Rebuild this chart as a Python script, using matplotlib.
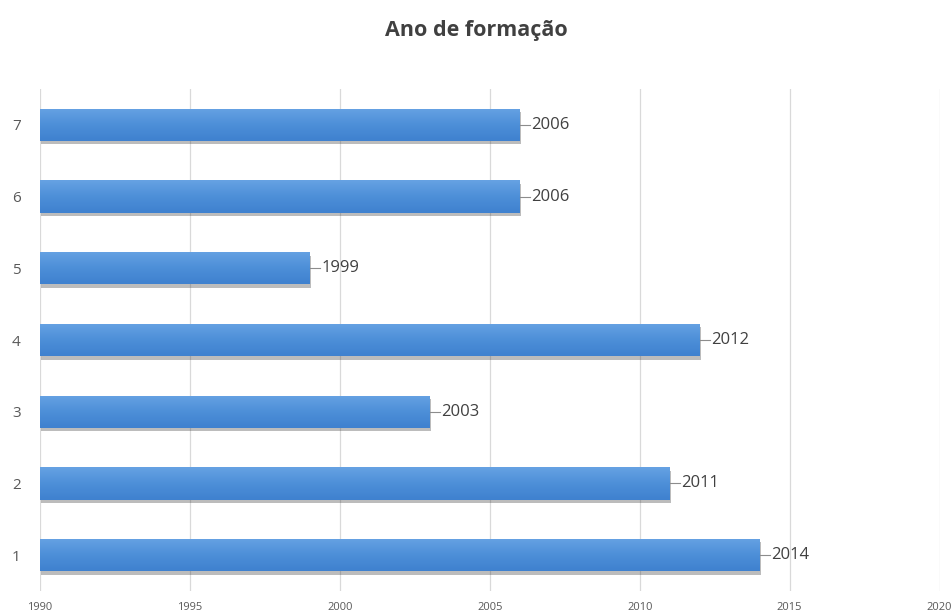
import numpy as np
import matplotlib.pyplot as plt
import matplotlib.patheffects as pe
from matplotlib.colors import LinearSegmentedColormap

plt.rcParams['font.family'] = ['Open Sans', 'DejaVu Sans']

categorias = [1, 2, 3, 4, 5, 6, 7]
anos = [2014, 2011, 2003, 2012, 1999, 2006, 2006]
ticks_x = [1990, 1995, 2000, 2005, 2010, 2015, 2020]

fig = plt.figure(figsize=(9.52, 6.14), dpi=100)
ax = fig.add_axes([0.042, 0.0375, 0.945, 0.8175])

inicio = 1990
larguras = [a - inicio for a in anos]
barras = ax.barh(categorias, larguras, left=inicio, height=0.45, color='#4d8fd8',
                 edgecolor='none', zorder=3)

# degradê vertical em cada barra
cmap = LinearSegmentedColormap.from_list('azul', ['#66a2e3', '#4d8fd8', '#3f81cf'])
grad = np.linspace(0, 1, 100).reshape(-1, 1)
for b in barras:
    b.set_path_effects([pe.SimplePatchShadow(offset=(0.8, -2.5), shadow_rgbFace='#404040', alpha=0.35),
                        pe.Normal()])
    x0, y0 = b.get_x(), b.get_y()
    im = ax.imshow(grad, cmap=cmap, aspect='auto', origin='upper',
                   extent=[x0, x0 + b.get_width(), y0, y0 + b.get_height()], zorder=3.5)
    im.set_clip_path(b)

# rotulos com linha de ligacao
for c, a in zip(categorias, anos):
    ax.plot([a, a + 0.35], [c, c], color='#8c8c8c', lw=0.8, zorder=4)
    ax.text(a + 0.38, c, str(a), va='center', ha='left', fontsize=12, color='#404040')

ax.set_xlim(1990, 2020)
ax.set_ylim(0.5, 7.5)
ax.set_xticks(ticks_x)
ax.set_yticks(categorias)
ax.tick_params(axis='x', labelsize=8, colors='#595959', length=0, pad=8)
ax.tick_params(axis='y', labelsize=11, colors='#595959', length=0, pad=14)
ax.grid(axis='x', color='#d9d9d9', lw=0.9, zorder=0)
for s in ax.spines.values():
    s.set_visible(False)

fig.text(0.5, 0.951, 'Ano de formação', ha='center', va='center', fontsize=15.5,
         fontweight='bold', color='#404040')

fig.savefig('out.png', dpi=100)
